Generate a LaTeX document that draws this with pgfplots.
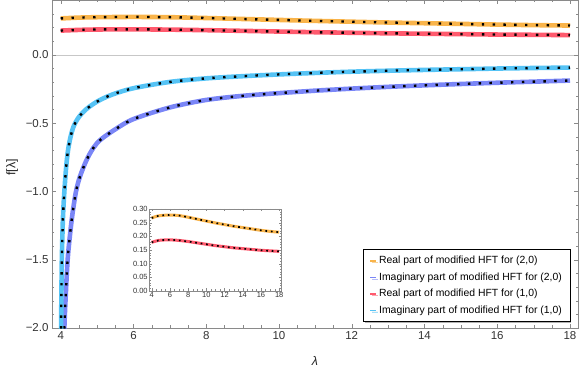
\documentclass[border=0pt]{standalone}
\usepackage{fontspec}
\setmainfont{Liberation Sans}
\usepackage{pgfplots}
\pgfplotsset{compat=1.18}
\usepackage{pgfplotstable}
\usetikzlibrary{shadows}

\definecolor{cReTwo}{HTML}{F9B44A}
\definecolor{cImTwo}{HTML}{7A86F7}
\definecolor{cReOne}{HTML}{FF5A6E}
\definecolor{cImOne}{HTML}{55C3F5}
\definecolor{frameC}{HTML}{8A8A8A}

% Real part, (2,0)
\pgfplotstableread{
l f
4.0 0.267
4.5 0.273
5.0 0.276
6.0 0.278
7.0 0.276
8.0 0.270
9.0 0.263
10.0 0.256
11.0 0.249
12.0 0.243
13.0 0.237
14.0 0.232
15.0 0.227
16.0 0.222
17.0 0.218
18.0 0.215
}\tabReTwo

% Imaginary part, (2,0)
\pgfplotstableread{
l f
4.07 -2.40
4.10 -2.00
4.14 -1.75
4.19 -1.50
4.25 -1.33
4.32 -1.17
4.42 -1.00
4.53 -0.89
4.71 -0.77
4.90 -0.68
5.10 -0.62
5.50 -0.545
6.0 -0.47
7.0 -0.385
8.0 -0.330
9.0 -0.300
10.0 -0.280
11.0 -0.262
12.0 -0.247
13.0 -0.234
14.0 -0.223
15.0 -0.213
16.0 -0.204
17.0 -0.196
18.0 -0.188
}\tabImTwo

% Real part, (1,0)
\pgfplotstableread{
l f
4.0 0.178
4.5 0.183
5.0 0.186
6.0 0.187
7.0 0.185
8.0 0.181
9.0 0.176
10.0 0.171
11.0 0.166
12.0 0.162
13.0 0.158
14.0 0.155
15.0 0.152
16.0 0.149
17.0 0.147
18.0 0.145
}\tabReOne

% Imaginary part, (1,0)
\pgfplotstableread{
l f
4.003 -2.40
4.010 -2.00
4.020 -1.72
4.030 -1.50
4.060 -1.20
4.100 -1.00
4.150 -0.82
4.200 -0.70
4.270 -0.60
4.360 -0.52
4.500 -0.455
4.700 -0.398
5.0 -0.342
5.4 -0.292
6.0 -0.244
7.0 -0.198
8.0 -0.172
9.0 -0.156
10.0 -0.143
11.0 -0.132
12.0 -0.123
13.0 -0.116
14.0 -0.110
15.0 -0.105
16.0 -0.100
17.0 -0.096
18.0 -0.093
}\tabImOne

\pgfplotsset{
  colline/.style={line width=4.6pt, smooth, forget plot},
  dotline/.style={black, line width=2.4pt, dash pattern=on 2.4pt off 8.4pt, smooth, forget plot},
}

\begin{document}
\begin{tikzpicture}
\useasboundingbox (-52pt,-39pt) rectangle (529pt,328pt);
\begin{axis}[
  at={(0pt,0pt)}, anchor=south west,
  scale only axis, width=526pt, height=328pt,
  xmin=3.76, xmax=18.22, ymin=-2, ymax=0.402,
  axis line style={frameC},
  tick align=inside,
  tick style={frameC},
  major tick length=4pt, minor tick length=2.5pt,
  xtick={4,6,8,10,12,14,16,18}, minor x tick num=3,
  ytick={-2,-1.5,-1,-0.5,0},
  yticklabels={−2.0,−1.5,−1.0,−0.5,0.0},
  minor ytick={-1.9,-1.8,-1.7,-1.6,-1.4,-1.3,-1.2,-1.1,-0.9,-0.8,-0.7,-0.6,-0.4,-0.3,-0.2,-0.1,0.1,0.2,0.3,0.4},
  /pgf/number format/assume math mode=true,
  tick label style={font=\fontsize{11.5}{13}\selectfont, text=black!80},
  extra y ticks={0}, extra y tick labels={},
  extra y tick style={grid=major, major grid style={black!22, line width=0.7pt}},
  xlabel={\itshape λ}, ylabel={f[λ]},
  label style={font=\fontsize{12.5}{14}\selectfont, text=black!85},
  xlabel style={at={(axis description cs:0.5,-0.1)}, anchor=center},
  ylabel style={at={(axis description cs:-0.076,0.49)}, anchor=center},
  legend style={at={(axis description cs:0.985,0.018)}, anchor=south east,
    font=\fontsize{10.4}{12}\selectfont, draw=black, line width=0.6pt,
    drop shadow={shadow xshift=1.6pt, shadow yshift=-1.6pt, fill=black!60},
    row sep=3.4pt, inner xsep=6pt, inner ysep=5pt, cells={anchor=west}},
  legend image code/.code={\draw[#1, line width=1.4pt] (0pt,0pt) -- (6pt,0pt);},
]
\addplot[colline, cReTwo] table[x=l, y=f] {\tabReTwo};
\addplot[dotline] table[x=l, y=f] {\tabReTwo};
\addplot[colline, cReOne] table[x=l, y=f] {\tabReOne};
\addplot[dotline] table[x=l, y=f] {\tabReOne};
\addplot[colline, cImTwo] table[x=l, y=f] {\tabImTwo};
\addplot[dotline] table[x=l, y=f] {\tabImTwo};
\addplot[colline, cImOne] table[x=l, y=f] {\tabImOne};
\addplot[dotline] table[x=l, y=f] {\tabImOne};
\addlegendimage{cReTwo}
\addlegendimage{cImTwo}
\addlegendimage{cReOne}
\addlegendimage{cImOne}
\legend{Real part of modified HFT for (2{,}0)\hspace{14pt},
        Imaginary part of modified HFT for (2{,}0),
        Real part of modified HFT for (1{,}0),
        Imaginary part of modified HFT for (1{,}0)}
\end{axis}

\begin{axis}[
  at={(97.3pt,37pt)}, anchor=south west,
  scale only axis, width=131.7pt, height=82pt,
  xmin=3.74, xmax=18.2, ymin=0, ymax=0.30,
  axis background/.style={fill=white},
  axis line style={frameC},
  tick align=inside,
  tick style={frameC},
  major tick length=2.5pt, minor tick length=1.5pt,
  xtick={4,6,8,10,12,14,16,18}, minor x tick num=3,
  ytick={0,0.05,0.10,0.15,0.20,0.25,0.30}, minor y tick num=4,
  yticklabel style={/pgf/number format/.cd, fixed, fixed zerofill, precision=2},
  /pgf/number format/assume math mode=true,
  tick label style={font=\fontsize{7.5}{9}\selectfont, text=black!80, inner sep=1.5pt},
]
\addplot[cReTwo, line width=3pt, smooth] table[x=l, y=f] {\tabReTwo};
\addplot[black, line width=1.7pt, dash pattern=on 1.7pt off 3.8pt, smooth] table[x=l, y=f] {\tabReTwo};
\addplot[cReOne, line width=3pt, smooth] table[x=l, y=f] {\tabReOne};
\addplot[black, line width=1.7pt, dash pattern=on 1.7pt off 3.8pt, smooth] table[x=l, y=f] {\tabReOne};
\end{axis}
\end{tikzpicture}
\end{document}
